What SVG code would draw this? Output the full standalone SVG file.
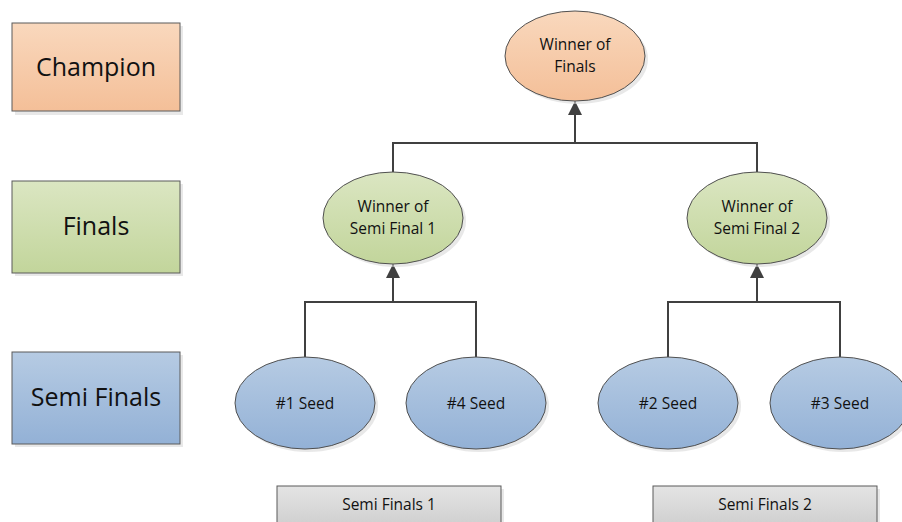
<svg xmlns="http://www.w3.org/2000/svg" width="902" height="522" viewBox="0 0 902 522">
<defs>
<linearGradient id="gO" x1="0" y1="0" x2="0" y2="1"><stop offset="0" stop-color="#f9d8bd"/><stop offset="1" stop-color="#f4bf98"/></linearGradient>
<linearGradient id="gG" x1="0" y1="0" x2="0" y2="1"><stop offset="0" stop-color="#dbe6c2"/><stop offset="1" stop-color="#c2d59b"/></linearGradient>
<linearGradient id="gB" x1="0" y1="0" x2="0" y2="1"><stop offset="0" stop-color="#b6cbe3"/><stop offset="1" stop-color="#93b1d6"/></linearGradient>
<linearGradient id="gS" x1="0" y1="0" x2="0" y2="1"><stop offset="0" stop-color="#e4e4e4"/><stop offset="1" stop-color="#cfcfcf"/></linearGradient>
<marker id="arr" viewBox="0 0 10 10" refX="10" refY="5" markerWidth="15" markerHeight="14" markerUnits="userSpaceOnUse" orient="auto"><path d="M0,0 L10,5 L0,10 z" fill="#404040"/></marker>
</defs>
<style>
.sh{fill:#d9d9d9;opacity:0.6}
.bx{stroke:#5a5a5a;stroke-width:1}
.el{stroke:#505050;stroke-width:1}
.t{font-family:"Open Sans","Liberation Sans",sans-serif;fill:#111;text-anchor:middle}
.big{font-size:25px}
.sm{font-size:15.5px}
.cn{fill:none;stroke:#404040;stroke-width:2}
</style>
<rect width="902" height="522" fill="#fff"/>
<g id="champion"><rect class="sh" x="15" y="26" width="168" height="89"/><rect class="bx" x="12" y="23" width="168" height="88" fill="url(#gO)"/><text class="t big" x="96" y="76">Champion</text></g>
<g id="finals"><rect class="sh" x="15" y="184" width="168" height="92"/><rect class="bx" x="12" y="181" width="168" height="92" fill="url(#gG)"/><text class="t big" x="96" y="235">Finals</text></g>
<g id="semifinals"><rect class="sh" x="15" y="355" width="168" height="92"/><rect class="bx" x="12" y="352" width="168" height="92" fill="url(#gB)"/><text class="t big" x="96" y="406">Semi Finals</text></g>
<g id="connectors">
<path class="cn" d="M305,357 V302 H476 V357"/><path class="cn" d="M393,302 V264" marker-end="url(#arr)"/>
<path class="cn" d="M668,357 V302 H840 V357"/><path class="cn" d="M757,302 V264" marker-end="url(#arr)"/>
<path class="cn" d="M393,172 V143 H757 V172"/><path class="cn" d="M575,143 V101" marker-end="url(#arr)"/>
</g>
<g id="winner-finals"><ellipse class="sh" cx="578" cy="59" rx="70" ry="45"/><ellipse class="el" cx="575" cy="56" rx="70" ry="45" fill="url(#gO)"/><text class="t sm" x="575" y="50">Winner of</text><text class="t sm" x="575" y="72">Finals</text></g>
<g id="winner-sf1"><ellipse class="sh" cx="396" cy="221" rx="70" ry="46"/><ellipse class="el" cx="393" cy="218" rx="70" ry="46" fill="url(#gG)"/><text class="t sm" x="393" y="212">Winner of</text><text class="t sm" x="393" y="234">Semi Final 1</text></g>
<g id="winner-sf2"><ellipse class="sh" cx="760" cy="221" rx="70" ry="46"/><ellipse class="el" cx="757" cy="218" rx="70" ry="46" fill="url(#gG)"/><text class="t sm" x="757" y="212">Winner of</text><text class="t sm" x="757" y="234">Semi Final 2</text></g>
<g id="seed1"><ellipse class="sh" cx="308" cy="406" rx="70" ry="46"/><ellipse class="el" cx="305" cy="403" rx="70" ry="46" fill="url(#gB)"/><text class="t sm" x="305" y="409">#1 Seed</text></g>
<g id="seed4"><ellipse class="sh" cx="479" cy="406" rx="70" ry="46"/><ellipse class="el" cx="476" cy="403" rx="70" ry="46" fill="url(#gB)"/><text class="t sm" x="476" y="409">#4 Seed</text></g>
<g id="seed2"><ellipse class="sh" cx="671" cy="406" rx="70" ry="46"/><ellipse class="el" cx="668" cy="403" rx="70" ry="46" fill="url(#gB)"/><text class="t sm" x="668" y="409">#2 Seed</text></g>
<g id="seed3"><ellipse class="sh" cx="843" cy="406" rx="70" ry="46"/><ellipse class="el" cx="840" cy="403" rx="70" ry="46" fill="url(#gB)"/><text class="t sm" x="840" y="409">#3 Seed</text></g>
<g id="sf1-label"><rect class="sh" x="280" y="489" width="224" height="40"/><rect class="bx" x="277" y="486" width="224" height="40" fill="url(#gS)"/><text class="t sm" x="389" y="510">Semi Finals 1</text></g>
<g id="sf2-label"><rect class="sh" x="656" y="489" width="224" height="40"/><rect class="bx" x="653" y="486" width="224" height="40" fill="url(#gS)"/><text class="t sm" x="765" y="510">Semi Finals 2</text></g>
</svg>
